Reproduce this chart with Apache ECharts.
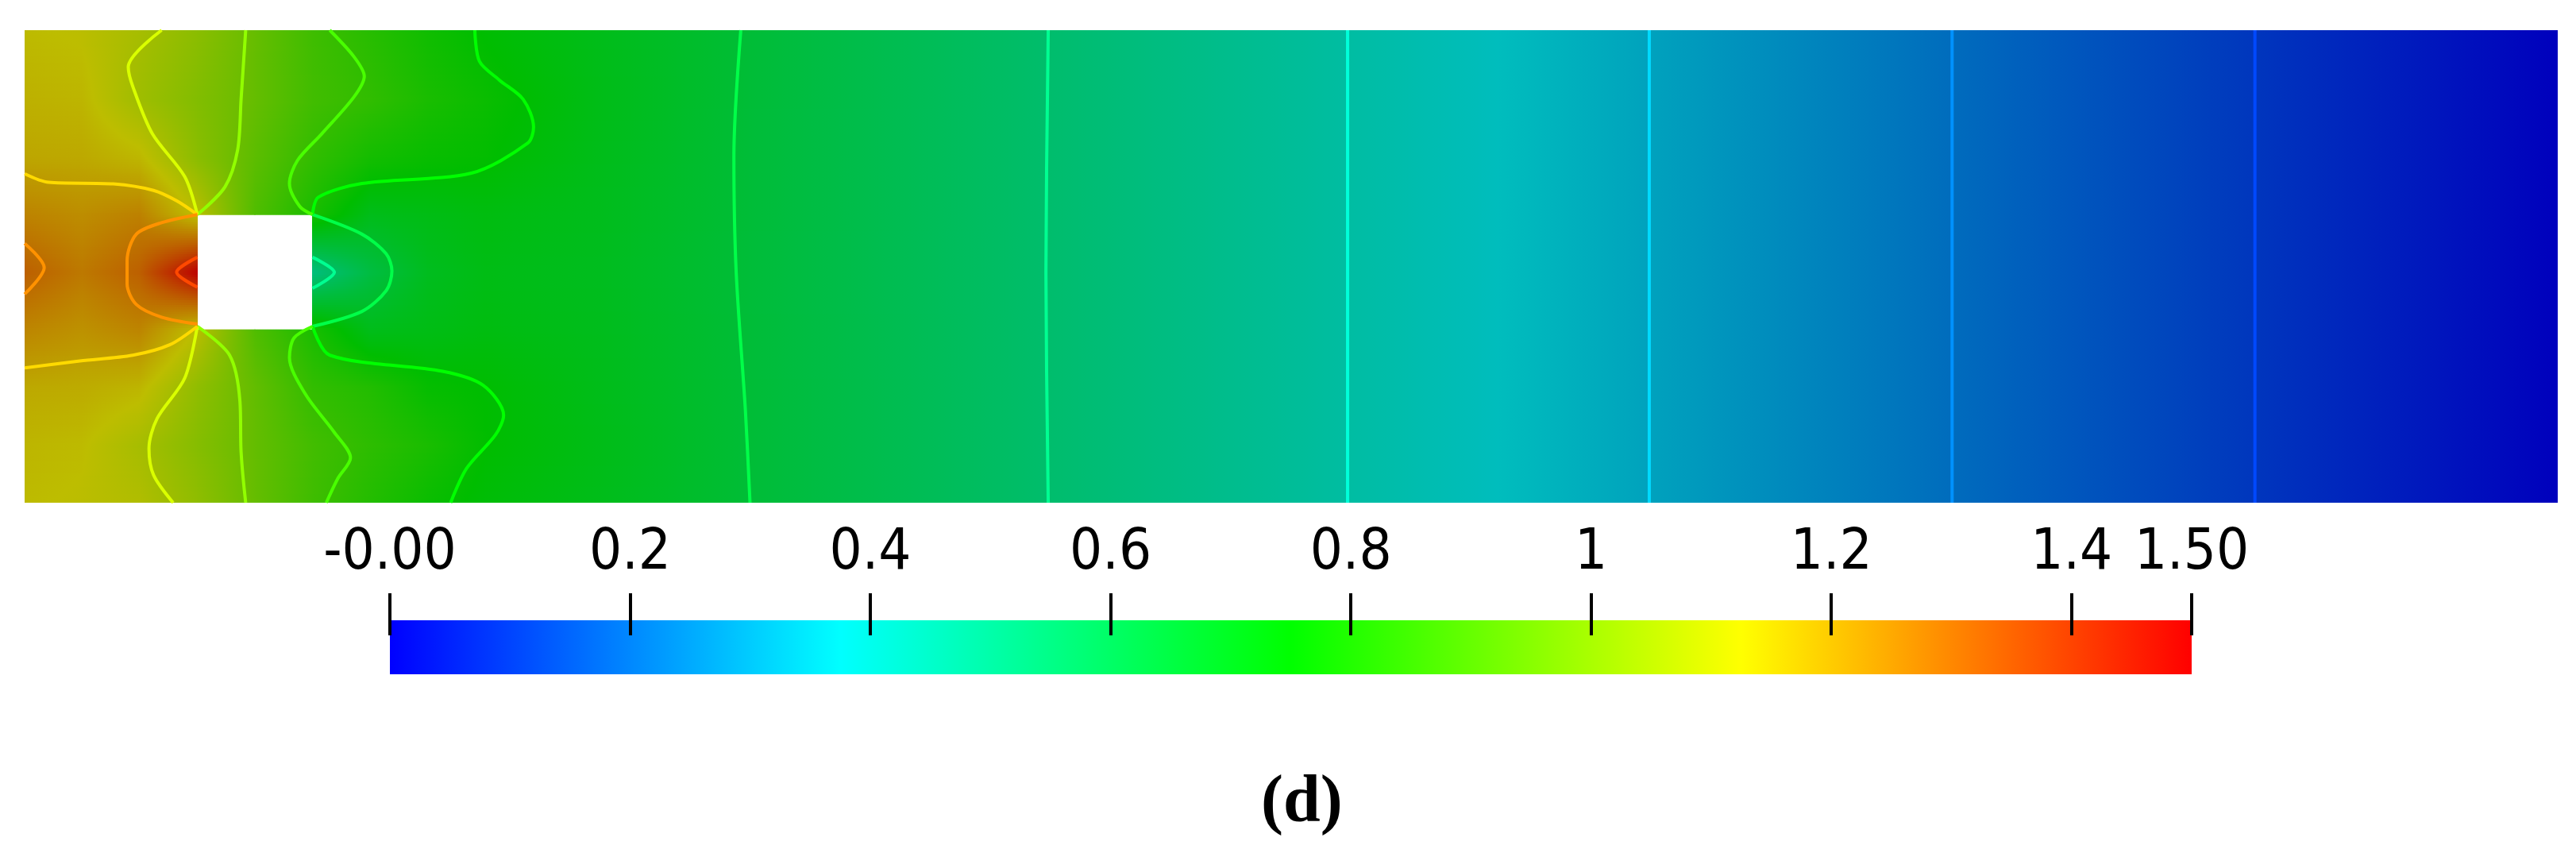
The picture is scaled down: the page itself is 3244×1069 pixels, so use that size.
<!DOCTYPE html>
<html><head><meta charset="utf-8">
<script src="https://cdn.jsdelivr.net/npm/echarts@6/dist/echarts.min.js"></script>
<style>html,body{margin:0;padding:0;background:#fff;}#c{width:3244px;height:1069px;}</style>
</head><body><div id="c"></div>
<script>
// ---------- DATA (channel 2.2 x 0.41, square obstacle) ----------
const X_NODES = [0, 0.05, 0.1, 0.15, 0.2, 0.25, 0.3, 0.35, 0.4, 0.5, 0.628, 0.889, 1.149, 1.411, 1.674, 1.937, 2.2];
const Y_NODES = [0, 0.05, 0.1, 0.15, 0.2, 0.25, 0.3, 0.35, 0.41];
const OBSTACLE = [0.15, 0.25, 0.15, 0.25]; // x0, x1, y0, y1
// pressure read at the nodes, one column per x node (bottom -> top)
const P_X0000 = [1.13, 1.14, 1.165, 1.235, 1.31, 1.24, 1.17, 1.15, 1.13];
const P_X0050 = [1.12, 1.13, 1.16, 1.21, 1.26, 1.22, 1.165, 1.14, 1.12];
const P_X0100 = [1.10, 1.08, 1.14, 1.237, 1.31, 1.245, 1.137, 1.065, 1.08];
const P_X0150 = [1.035, 1.015, 1.036, 1.12, 1.5, 1.12, 1.025, 1.008, 1.026];
const P_X0200 = [0.952, 0.949, 0.947, 0.91, null, 0.91, 0.934, 0.951, 0.952];
const P_X0250 = [0.875, 0.882, 0.85, 0.80, 0.50, 0.80, 0.85, 0.88, 0.875];
const P_X0300 = [0.82, 0.839, 0.817, 0.70, 0.62, 0.70, 0.79, 0.847, 0.827];
const P_X0350 = [0.77, 0.80, 0.76, 0.71, 0.69, 0.71, 0.765, 0.80, 0.78];
const P_X0400 = [0.738, 0.752, 0.748, 0.72, 0.71, 0.72, 0.755, 0.77, 0.746];
const P_X0500 = [0.70, 0.705, 0.70, 0.695, 0.69, 0.695, 0.70, 0.705, 0.70];
const P_X0628 = [0.643, 0.643, 0.642, 0.64, 0.639, 0.64, 0.64, 0.642, 0.643];
const P_X0889 = [0.536, 0.536, 0.536, 0.536, 0.536, 0.536, 0.536, 0.536, 0.536];
const P_X1149 = [0.429, 0.429, 0.429, 0.429, 0.429, 0.429, 0.429, 0.429, 0.429];
const P_X1411 = [0.321, 0.321, 0.321, 0.321, 0.321, 0.321, 0.321, 0.321, 0.321];
const P_X1674 = [0.214, 0.214, 0.214, 0.214, 0.214, 0.214, 0.214, 0.214, 0.214];
const P_X1937 = [0.107, 0.107, 0.107, 0.107, 0.107, 0.107, 0.107, 0.107, 0.107];
const P_X2200 = [0, 0, 0, 0, 0, 0, 0, 0, 0];
const P_COLUMNS = [P_X0000, P_X0050, P_X0100, P_X0150, P_X0200, P_X0250, P_X0300, P_X0350, P_X0400, P_X0500, P_X0628, P_X0889, P_X1149, P_X1411, P_X1674, P_X1937, P_X2200];

// contour lines (x, y)
const LINE_0107 = [[1.937, 0], [1.937, 0.41]];
const LINE_0214 = [[1.674, 0], [1.674, 0.41]];
const LINE_0321 = [[1.411, 0], [1.411, 0.41]];
const LINE_0429 = [[1.149, 0], [1.149, 0.41]];
const LINE_0536_FAR = [[0.889, 0], [0.887, 0.2], [0.889, 0.41]];
const LINE_0536_WAKE = [[0.25, 0.213], [0.269, 0.2], [0.25, 0.186]];
const LINE_0643_FAR = [[0.630, 0], [0.626, 0.08], [0.618, 0.2], [0.616, 0.3], [0.622, 0.41]];
const LINE_0643_WAKE = [[0.25, 0.25], [0.293, 0.233], [0.314, 0.216], [0.319, 0.201], [0.314, 0.184], [0.293, 0.166], [0.25, 0.153]];
const LINE_0750_TOP = [[0.391, 0.41], [0.395, 0.383], [0.412, 0.367], [0.433, 0.35], [0.442, 0.326], [0.437, 0.312], [0.388, 0.286], [0.293, 0.277], [0.255, 0.265], [0.25, 0.25]];
const LINE_0750_BOT = [[0.25, 0.153], [0.265, 0.128], [0.363, 0.114], [0.398, 0.102], [0.416, 0.076], [0.409, 0.059], [0.384, 0.030], [0.37, 0]];
const LINE_0857_TOP = [[0.265, 0.41], [0.286, 0.387], [0.295, 0.37], [0.286, 0.352], [0.258, 0.32], [0.237, 0.297], [0.230, 0.277], [0.239, 0.257], [0.25, 0.25]];
const LINE_0857_BOT = [[0.25, 0.153], [0.234, 0.143], [0.230, 0.126], [0.244, 0.094], [0.269, 0.061], [0.283, 0.039], [0.272, 0.021], [0.262, 0]];
const LINE_0964_TOP = [[0.192, 0.41], [0.188, 0.35], [0.185, 0.306], [0.174, 0.274], [0.15, 0.25]];
const LINE_0964_BOT = [[0.15, 0.153], [0.178, 0.128], [0.187, 0.088], [0.188, 0.044], [0.192, 0]];
const LINE_1071_TOP = [[0.119, 0.41], [0.090, 0.378], [0.094, 0.361], [0.111, 0.320], [0.139, 0.283], [0.15, 0.25]];
const LINE_1071_BOT = [[0.15, 0.153], [0.139, 0.108], [0.115, 0.073], [0.108, 0.047], [0.112, 0.024], [0.129, 0]];
const LINE_1179_TOP = [[0, 0.2855], [0.021, 0.278], [0.077, 0.2766], [0.112, 0.271], [0.132, 0.262], [0.15, 0.25]];
const LINE_1179_BOT = [[0, 0.117], [0.048, 0.123], [0.094, 0.128], [0.126, 0.137], [0.15, 0.153]];
const LINE_1286_FRONT = [[0.15, 0.25], [0.119, 0.243], [0.097, 0.233], [0.089, 0.21], [0.089, 0.19], [0.097, 0.172], [0.119, 0.161], [0.15, 0.155]];
const LINE_1286_INLET = [[0, 0.225], [0.017, 0.204], [0, 0.181]];
const LINE_1393_FRONT = [[0.15, 0.213], [0.132, 0.2], [0.15, 0.187]];

// colour bar
const CMAP_VALUES = [0, 0.375, 0.75, 1.125, 1.5];
const CMAP_COLORS = ['#0000ff', '#00ffff', '#00ff00', '#ffff00', '#ff0000'];
const TICK_VALUES = [0, 0.2, 0.4, 0.6, 0.8, 1, 1.2, 1.4, 1.5];
const TICK_LABELS = ['-0.00', '0.2', '0.4', '0.6', '0.8', '1', '1.2', '1.4', '1.50'];

// ---------- helpers ----------
function hex2rgb(h) { return [parseInt(h.substr(1, 2), 16), parseInt(h.substr(3, 2), 16), parseInt(h.substr(5, 2), 16)]; }
const CMAP_RGB = CMAP_COLORS.map(hex2rgb);
function cmap(v, k) {
  if (v <= CMAP_VALUES[0]) v = CMAP_VALUES[0];
  if (v >= CMAP_VALUES[CMAP_VALUES.length - 1]) v = CMAP_VALUES[CMAP_VALUES.length - 1];
  let i = 0;
  while (i < CMAP_VALUES.length - 2 && v > CMAP_VALUES[i + 1]) i++;
  const t = (v - CMAP_VALUES[i]) / (CMAP_VALUES[i + 1] - CMAP_VALUES[i]);
  const a = CMAP_RGB[i], b = CMAP_RGB[i + 1];
  const c = [0, 1, 2].map(j => Math.round((a[j] + (b[j] - a[j]) * t) * k));
  return 'rgb(' + c.join(',') + ')';
}
const SHADE = 0.74;
function gradStops(vl, vr, k) {
  const stops = [{ offset: 0, color: cmap(vl, k) }];
  if (Math.abs(vr - vl) > 1e-9) {
    const lo = Math.min(vl, vr), hi = Math.max(vl, vr);
    const mids = CMAP_VALUES.filter(s => s > lo && s < hi).map(s => (s - vl) / (vr - vl)).sort((a, b) => a - b);
    mids.forEach(o => stops.push({ offset: o, color: cmap(vl + (vr - vl) * o, k) }));
  }
  stops.push({ offset: 1, color: cmap(vr, k) });
  return stops;
}

// ---------- cells ----------
const cells = [];
for (let i = 0; i < X_NODES.length - 1; i++) {
  for (let j = 0; j < Y_NODES.length - 1; j++) {
    const cx = (X_NODES[i] + X_NODES[i + 1]) / 2, cy = (Y_NODES[j] + Y_NODES[j + 1]) / 2;
    if (cx > OBSTACLE[0] && cx < OBSTACLE[1] && cy > OBSTACLE[2] && cy < OBSTACLE[3]) continue;
    cells.push([X_NODES[i], Y_NODES[j], X_NODES[i + 1], Y_NODES[j + 1],
      P_COLUMNS[i][j], P_COLUMNS[i + 1][j], P_COLUMNS[i][j + 1], P_COLUMNS[i + 1][j + 1]]);
  }
}
function renderCell(params, api) {
  const x0 = api.value(0), y0 = api.value(1), x1 = api.value(2), y1 = api.value(3);
  const v00 = api.value(4), v10 = api.value(5), v01 = api.value(6), v11 = api.value(7);
  const p0 = api.coord([x0, y0]), p1 = api.coord([x1, y1]);
  const left = p0[0], right = p1[0], bottom = p0[1], top = p1[1];
  const h = bottom - top;
  const uniform = (v00 === v01 && v10 === v11);
  const n = uniform ? 1 : Math.max(1, Math.ceil(h / 3));
  const children = [];
  for (let s = 0; s < n; s++) {
    const f = (s + 0.5) / n;
    const vl = v00 + (v01 - v00) * f, vr = v10 + (v11 - v10) * f;
    const yb = bottom - h * s / n, yt = bottom - h * (s + 1) / n;
    children.push({
      type: 'rect', silent: true,
      shape: { x: left - 0.5, y: yt - 0.5, width: right - left + 1, height: yb - yt + 1 },
      style: { fill: new echarts.graphic.LinearGradient(0, 0, 1, 0, gradStops(vl, vr, SHADE)) }
    });
  }
  return { type: 'group', children: children };
}

// ---------- contours ----------
const CONTOURS = [
  [0.107, LINE_0107], [0.214, LINE_0214], [0.321, LINE_0321], [0.429, LINE_0429],
  [0.536, LINE_0536_FAR], [0.536, LINE_0536_WAKE], [0.643, LINE_0643_FAR], [0.643, LINE_0643_WAKE],
  [0.75, LINE_0750_TOP], [0.75, LINE_0750_BOT], [0.857, LINE_0857_TOP], [0.857, LINE_0857_BOT],
  [0.964, LINE_0964_TOP], [0.964, LINE_0964_BOT], [1.071, LINE_1071_TOP], [1.071, LINE_1071_BOT],
  [1.179, LINE_1179_TOP], [1.179, LINE_1179_BOT], [1.286, LINE_1286_FRONT], [1.286, LINE_1286_INLET],
  [1.393, LINE_1393_FRONT]
];
const contourSeries = CONTOURS.map(c => ({
  type: 'line', xAxisIndex: 0, yAxisIndex: 0, data: c[1], symbol: 'none', silent: true,
  smooth: 0.3, lineStyle: { color: cmap(c[0], 1), width: 4 }, z: 5, animation: false
}));

const chart = echarts.init(document.getElementById('c'), null, { renderer: 'canvas' });
const LABEL_FONT = "'Liberation Sans Narrow','DejaVu Sans Condensed','Liberation Sans',sans-serif";
function tickLabel(v) { const i = TICK_VALUES.findIndex(t => Math.abs(t - v) < 1e-6); return i >= 0 ? TICK_LABELS[i] : ''; }
chart.setOption({
  animation: false,
  backgroundColor: '#ffffff',
  title: {
    text: '{a|(}{b|d}{a|)}', left: 1583, top: 962,
    textStyle: { rich: {
      a: { fontFamily: 'Liberation Serif', fontSize: 84, color: '#000', lineHeight: 90 },
      b: { fontFamily: 'Liberation Serif', fontSize: 84, fontWeight: 'bold', color: '#000', lineHeight: 90 }
    } }
  },
  grid: [
    { left: 31, top: 38, width: 3190, height: 595, outerBoundsMode: 'none' },
    { left: 491, top: 747, width: 2269, height: 53, outerBoundsMode: 'none' },
    { left: 491, top: 781, width: 2269, height: 68, outerBoundsMode: 'none' }
  ],
  xAxis: [
    { gridIndex: 0, type: 'value', min: 0, max: 2.2, show: false },
    { gridIndex: 1, type: 'value', min: 0, max: 1.5, position: 'bottom', z: 10,
      axisLine: { show: false }, splitLine: { show: false },
      axisTick: { show: true, customValues: TICK_VALUES, length: 53, inside: true, lineStyle: { color: '#000', width: 4 } },
      axisLabel: { show: false } },
    { gridIndex: 1, type: 'value', min: 0, max: 1.5, position: 'top', z: 10,
      axisLine: { show: false }, splitLine: { show: false }, axisTick: { show: false },
      axisLabel: { show: true, customValues: TICK_VALUES, margin: 50, verticalAlign: 'middle',
        fontFamily: LABEL_FONT, fontSize: 72, color: '#000', formatter: tickLabel } },
    { gridIndex: 2, type: 'value', min: 0, max: 1.5, show: false }
  ],
  yAxis: [
    { gridIndex: 0, type: 'value', min: 0, max: 0.41, show: false },
    { gridIndex: 1, type: 'value', min: 0, max: 1, show: false },
    { gridIndex: 2, type: 'value', min: 0, max: 1, show: false }
  ],
  series: [
    { type: 'custom', xAxisIndex: 0, yAxisIndex: 0, data: cells, renderItem: renderCell, silent: true, z: 1,
      encode: { x: [0, 2], y: [1, 3] }, clip: true },
    ...contourSeries,
    { type: 'custom', xAxisIndex: 3, yAxisIndex: 2, data: [[CMAP_VALUES[0], CMAP_VALUES[CMAP_VALUES.length - 1]]], silent: true, z: 0,
      encode: { x: [0, 1] },
      renderItem: function (params, api) {
        const a = api.coord([api.value(0), 0]), b = api.coord([api.value(1), 1]);
        const stops = CMAP_VALUES.map((v, i) => ({ offset: v / CMAP_VALUES[CMAP_VALUES.length - 1], color: CMAP_COLORS[i] }));
        return { type: 'rect', shape: { x: a[0], y: b[1], width: b[0] - a[0], height: a[1] - b[1] },
          style: { fill: new echarts.graphic.LinearGradient(0, 0, 1, 0, stops) } };
      } }
  ]
});
</script></body></html>
